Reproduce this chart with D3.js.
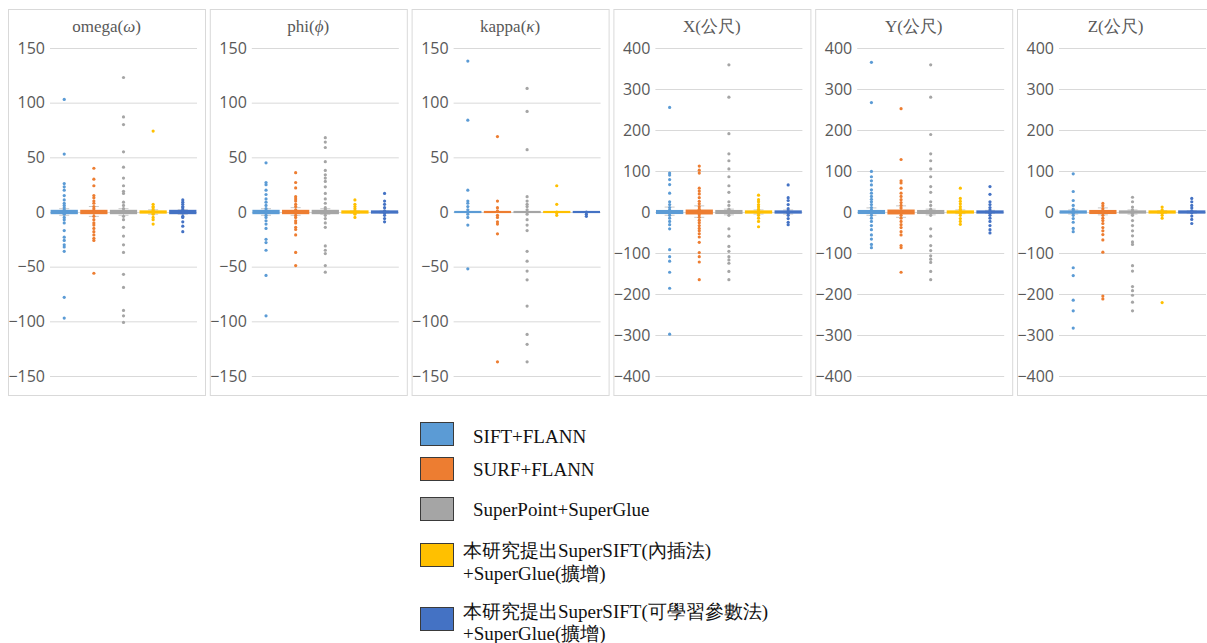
<!DOCTYPE html>
<html>
<head>
<meta charset="utf-8">
<script src="https://cdn.jsdelivr.net/npm/d3@7"></script>
<style>
  body { margin: 0; background: #fff; }
  svg { display: block; }
</style>
</head>
<body>
<div id="chart"></div>
<script>
const seriesNames = ['SIFT+FLANN', 'SURF+FLANN', 'SuperPoint+SuperGlue',
  ['本研究提出SuperSIFT(內插法)', '+SuperGlue(擴增)'],
  ['本研究提出SuperSIFT(可學習參數法)', '+SuperGlue(擴增)']];
const colors = ['#5B9BD5', '#ED7D31', '#A5A5A5', '#FFC000', '#4472C4'];

const titles = [['omega(', 'ω', ')'], ['phi(', 'ϕ', ')'], ['kappa(', 'κ', ')'], ['X(公尺)'], ['Y(公尺)'], ['Z(公尺)']];
const angleTicks = [-150, -100, -50, 0, 50, 100, 150];
const distTicks = [-400, -300, -200, -100, 0, 100, 200, 300, 400];

// error values per series
const omegaVals = [
  [103, 53, 26, 23, 20, 15, 11, 8, 6, 4, 2, 1, 0, 0, 0, -1, -2, -5, -7, -10, -17, -23, -26, -30, -32, -36, -78, -97],
  [40, 30, 24, 15, 13, 10, 8, 5, 3, 1, 0, 0, 0, -1, -4, -7, -10, -12, -15, -18, -21, -24, -26, -56],
  [123, 87, 80, 55, 41, 31, 24, 19, 17, 9, 6, 3, 0, 0, -4, -7, -14, -22, -30, -37, -57, -69, -90, -95, -101],
  [74, 7, 5, 4, 2, 1, 0, -1, -2, -5, -7, -11],
  [11, 9, 7, 5, 4, 2, 1, 0, 0, -1, -4, -5, -9, -13, -18]
];
const phiVals = [
  [45, 27, 25, 20, 16, 12, 9, 6, 3, 1, 0, -1, -3, -5, -8, -11, -15, -25, -28, -35, -58, -95],
  [36, 27, 22, 14, 12, 10, 7, 5, 2, 0, 0, -3, -5, -8, -10, -14, -16, -21, -37, -49],
  [68, 64, 59, 46, 38, 34, 31, 28, 23, 17, 12, 8, 4, 2, 0, -3, -6, -10, -14, -31, -35, -38, -49, -55],
  [11, 7, 5, 3, 1, 0, -1, -2, -5],
  [17, 10, 7, 4, 1, 0, -1, -3, -6, -9]
];
const kappaVals = [
  [138, 84, 20, 10, 8, 5, 2, 0, -2, -5, -12, -52],
  [69, 10, 4, 1, -3, -5, -9, -11, -20, -137],
  [113, 92, 57, 14, 10, 7, 5, 2, 0, -2, -7, -12, -17, -36, -45, -54, -62, -86, -112, -121, -137],
  [24, 7, 0, -1, -3],
  [0, -2, -4]
];
const xVals = [
  [255, 95, 90, 79, 67, 46, 25, 18, 11, 5, 0, -3, -8, -15, -23, -31, -41, -92, -109, -120, -147, -186, -298],
  [112, 102, 95, 58, 51, 44, 35, 26, 20, 13, 7, 2, 0, 0, -2, -7, -13, -20, -26, -33, -40, -46, -53, -61, -74, -99, -109, -122, -165],
  [359, 280, 191, 142, 125, 105, 86, 64, 48, 25, 16, 7, 0, -8, -41, -59, -84, -96, -109, -117, -125, -145, -165],
  [41, 30, 25, 18, 13, 7, 2, 0, -3, -8, -15, -23, -36],
  [66, 35, 28, 18, 8, 2, 0, -3, -8, -16, -25, -31]
];
const yVals = [
  [365, 267, 99, 86, 76, 66, 54, 46, 38, 31, 25, 18, 11, 5, 0, -3, -8, -15, -23, -33, -43, -56, -66, -79, -87],
  [252, 128, 76, 71, 58, 46, 38, 30, 23, 16, 10, 3, 0, 0, -3, -8, -15, -23, -31, -38, -48, -56, -82, -87, -147],
  [359, 280, 189, 142, 125, 105, 86, 62, 48, 25, 16, 7, 0, -8, -41, -59, -82, -94, -107, -115, -123, -145, -165],
  [58, 33, 26, 20, 13, 7, 2, 0, -3, -8, -16, -23, -30],
  [62, 43, 25, 18, 11, 5, 0, -3, -8, -15, -23, -33, -43, -51]
];
const zVals = [
  [93, 50, 28, 16, 7, 2, 0, -3, -8, -16, -25, -40, -48, -136, -155, -215, -241, -283],
  [21, 15, 8, 3, 0, -2, -8, -15, -21, -28, -38, -46, -55, -68, -98, -205, -212],
  [36, 25, 12, 5, 0, -3, -8, -21, -33, -46, -58, -73, -79, -131, -144, -182, -192, -203, -220, -241],
  [12, 5, 0, -3, -8, -15, -221],
  [33, 25, 16, 10, 3, 0, -2, -10, -18, -28]
];

// quartile box [q1, q3] and whisker [lo, hi] per series
const omegaBox = [[-2, 2], [-2, 2], [-2, 2], [-1.5, 1.5], [-2, 2]];
const phiBox = [[-2, 2], [-2, 2], [-2, 2], [-1.5, 1.5], [-1.5, 1.5]];
const kappaBox = [[-1, 1], [-1, 1], [-1, 1], [-1, 1], [-1, 1]];
const xBox = [[-5, 5], [-6, 6], [-5, 5], [-4, 4], [-4, 4]];
const yBox = [[-5, 5], [-6, 6], [-5, 5], [-4, 4], [-4, 4]];
const zBox = [[-4, 4], [-5, 5], [-4, 4], [-4, 4], [-4, 4]];

const omegaWhisk = [[-3, 3], [-4, 5], [-3, 3], [-2, 2], [-2, 2]];
const phiWhisk = [[-3, 3], [-3, 4], [-2, 3], [-1, 1], [-1, 1]];
const kappaWhisk = [[0, 0], [0, 0], [0, 0], [0, 0], [0, 0]];
const xWhisk = [[-8, 12], [-13, 15], [-7, 7], [-5, 5], [-5, 5]];
const yWhisk = [[-8, 10], [-13, 15], [-7, 7], [-4, 5], [-3, 4]];
const zWhisk = [[-5, 5], [-7, 10], [-5, 5], [-3, 3], [-3, 3]];

const panelVals = [omegaVals, phiVals, kappaVals, xVals, yVals, zVals];
const panelBox = [omegaBox, phiBox, kappaBox, xBox, yBox, zBox];
const panelWhisk = [omegaWhisk, phiWhisk, kappaWhisk, xWhisk, yWhisk, zWhisk];
const panelTicks = [angleTicks, angleTicks, angleTicks, distTicks, distTicks, distTicks];

const width = 1207, height = 643;
const svg = d3.select('#chart').append('svg')
  .attr('width', width)
  .attr('height', height);

const panelStep = 201.8, panelW = 197;
const plotLeft = 42, plotW = 147, plotTop = 48, plotBottom = 376;

panelVals.forEach((vals, p) => {
  const ticks = panelTicks[p];
  const g = svg.append('g').attr('transform', `translate(${8 + p * panelStep},0)`);

  g.append('rect')
    .attr('x', 0.5).attr('y', 9.5)
    .attr('width', panelW).attr('height', 386)
    .attr('fill', '#fff').attr('stroke', '#D9D9D9');

  const y = d3.scaleLinear()
    .domain([ticks[0], ticks[ticks.length - 1]])
    .range([plotBottom, plotTop]);
  const x = d3.scaleBand()
    .domain(d3.range(5))
    .range([plotLeft, plotLeft + plotW])
    .paddingInner(0.08).paddingOuter(0.02);

  // gridlines + tick labels
  const axis = g.append('g')
    .attr('transform', `translate(${plotLeft},0)`)
    .call(d3.axisLeft(y).tickValues(ticks).tickSize(-plotW).tickPadding(5));
  axis.select('.domain').remove();
  axis.selectAll('.tick line').attr('stroke', '#D9D9D9');
  axis.selectAll('.tick text')
    .attr('fill', '#595959')
    .style('font-family', '"Open Sans", "Liberation Sans", sans-serif')
    .style('font-size', '16px');

  // title
  const t = g.append('text')
    .attr('x', panelW / 2).attr('y', 32)
    .attr('text-anchor', 'middle')
    .attr('fill', '#595959')
    .style('font-family', '"Liberation Serif", "Times New Roman", serif')
    .style('font-size', '17px');
  titles[p].forEach((s, k) => {
    t.append('tspan').text(s).style('font-style', k === 1 ? 'italic' : 'normal');
  });

  vals.forEach((arr, s) => {
    const cx = x(s) + x.bandwidth() / 2;
    const [q1, q3] = panelBox[p][s];
    const [lo, hi] = panelWhisk[p][s];
    const c = colors[s];

    // whiskers
    if (hi !== lo) {
      g.append('line')
        .attr('x1', cx).attr('x2', cx)
        .attr('y1', y(hi)).attr('y2', y(lo))
        .attr('stroke', '#C8C8C8').attr('stroke-width', 1);
      [lo, hi].forEach(v => {
        g.append('line')
          .attr('x1', cx - 5).attr('x2', cx + 5)
          .attr('y1', y(v)).attr('y2', y(v))
          .attr('stroke', '#C8C8C8').attr('stroke-width', 1);
      });
    }

    // box
    const h = Math.max(2, y(q1) - y(q3));
    g.append('rect')
      .attr('x', x(s)).attr('width', x.bandwidth())
      .attr('y', (y(q1) + y(q3)) / 2 - h / 2).attr('height', h)
      .attr('fill', c);

    // points
    g.append('g').selectAll('circle')
      .data(arr)
      .join('circle')
      .attr('cx', cx)
      .attr('cy', d => y(d))
      .attr('r', 1.6)
      .attr('fill', c);
  });
});

// legend
const legendTop = [422, 457, 497, 543, 607];
const legendBase = [[443], [476], [516], [557, 580], [618, 640]];
const legend = svg.append('g')
  .style('font-family', '"Liberation Serif", "Times New Roman", serif')
  .style('font-size', '19px');
seriesNames.forEach((name, i) => {
  legend.append('rect')
    .attr('x', 420.5).attr('y', legendTop[i] + 0.5)
    .attr('width', 33).attr('height', 23)
    .attr('fill', colors[i])
    .attr('stroke', '#3A3A3A').attr('stroke-width', 1);
  const lines = typeof name === 'string' ? [name] : name;
  lines.forEach((line, k) => {
    legend.append('text')
      .attr('x', lines.length === 1 ? 473 : 463)
      .attr('y', legendBase[i][k])
      .attr('fill', '#111')
      .text(line);
  });
});
</script>
</body>
</html>
